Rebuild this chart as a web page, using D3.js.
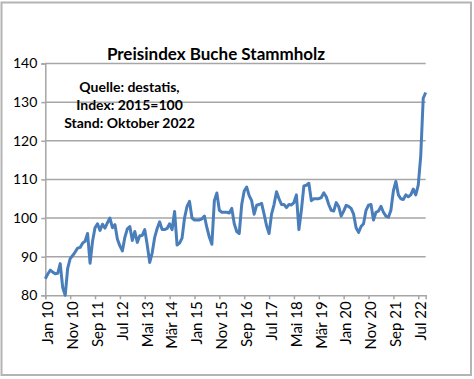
<!DOCTYPE html>
<html><head><meta charset="utf-8">
<script src="https://cdn.jsdelivr.net/npm/d3@7"></script>
<style>
html,body{margin:0;padding:0;background:#fff;}
svg{display:block;font-family:Lato,"Open Sans",sans-serif;}
</style></head>
<body>
<script>
// Monthly price index, Jan 2010 .. Oct 2022 (2015 = 100)
const values = [
 84.3,85.5,86.5,86.0,85.6,85.7,88.2,82.0,80.0,87.0,89.5,90.3,
 91.2,92.2,92.4,93.5,94.0,96.0,88.3,94.0,97.5,98.5,96.8,98.4,
 97.4,98.8,100.0,97.5,98.3,94.5,92.8,91.5,95.0,97.2,97.8,94.2,
 96.5,93.7,95.4,95.5,97.0,93.0,88.5,91.0,95.0,97.3,99.0,97.0,
 97.0,97.3,98.5,97.0,101.7,93.0,93.5,94.8,100.0,103.0,104.3,100.0,
 99.5,99.5,99.5,99.8,100.5,97.5,95.0,93.2,104.5,106.5,102.0,101.5,
 101.5,101.5,101.3,102.5,98.5,96.5,96.0,103.5,107.0,108.0,105.8,104.5,
 101.0,103.3,103.5,103.8,101.0,98.0,96.0,101.0,103.5,106.8,105.0,103.5,
 103.5,102.7,103.5,103.4,104.0,106.0,97.0,102.0,108.3,108.5,109.0,104.5,
 105.0,105.0,105.0,105.3,106.5,105.5,103.5,102.0,101.8,104.0,103.0,100.5,
 101.8,103.3,103.0,102.5,101.0,97.5,96.3,97.8,98.5,102.0,103.3,103.5,
 99.5,101.5,101.8,103.0,101.5,100.5,100.2,102.0,107.0,109.5,106.0,105.0,
 104.8,106.0,105.5,106.0,107.5,106.0,108.5,116.0,131.0,132.5
];
const monthNames = ["Jan","Feb","Mär","Apr","Mai","Jun","Jul","Aug","Sep","Okt","Nov","Dez"];
const startYear = 2010;
const categories = values.map((v,i)=> monthNames[i%12] + " " + String((startYear + Math.floor(i/12))%100).padStart(2,"0"));
const tickLabels = ["Jan 10","Nov 10","Sep 11","Jul 12","Mai 13","Mär 14","Jan 15","Nov 15","Sep 16","Jul 17","Mai 18","Mär 19","Jan 20","Nov 20","Sep 21","Jul 22"];
const yTicks = [80,90,100,110,120,130,140];
const titleText = "Preisindex Buche Stammholz";
const noteLines = ["Quelle: destatis,","Index: 2015=100","Stand: Oktober 2022"];

const W=474,H=379;
const svg = d3.select("body").append("svg").attr("width",W).attr("height",H);

// outer border
svg.append("rect").attr("x",1.5).attr("y",2.5).attr("width",469.5).attr("height",372.5)
  .attr("fill","#fff").attr("stroke","#b4b4b4").attr("stroke-width",2);

const mLeft=45.3, mRight=425.7, mTop=63.5, mBottom=295.3;
const x = d3.scaleLinear().domain([0, values.length-1]).range([mLeft,mRight]);
const y = d3.scaleLinear().domain([80,140]).range([mBottom,mTop]);

// gridlines
svg.append("g").selectAll("line").data(yTicks.filter(t=>t>80)).join("line")
  .attr("x1",mLeft).attr("x2",mRight).attr("y1",d=>y(d)).attr("y2",d=>y(d))
  .attr("stroke","#a6a6a6").attr("stroke-width",1.5);

// y axis
const yAxis = svg.append("g").attr("transform",`translate(${mLeft},0)`)
  .call(d3.axisLeft(y).tickValues(yTicks).tickSize(4).tickPadding(4));
yAxis.select(".domain").attr("stroke","#a6a6a6").attr("stroke-width",1.5);
yAxis.selectAll(".tick line").attr("stroke","#a6a6a6").attr("stroke-width",1.5);
yAxis.selectAll("text").attr("font-size","14px").attr("fill","#000").attr("font-family","Lato");

// x axis
const tickIdx = tickLabels.map(l=>categories.indexOf(l));
const xAxis = svg.append("g").attr("transform",`translate(0,${mBottom})`)
  .call(d3.axisBottom(x).tickValues(tickIdx).tickSize(4).tickFormat(d=>categories[d]));
xAxis.select(".domain").attr("stroke","#a6a6a6").attr("stroke-width",1.5);
xAxis.selectAll(".tick line").attr("stroke","#a6a6a6").attr("stroke-width",1.5);
xAxis.selectAll("text").attr("font-size","15px").attr("fill","#000").attr("font-family","Lato")
  .attr("text-anchor","end").attr("transform","rotate(-90)")
  .attr("x",-6).attr("y",2).attr("dy","0.35em");

// line
svg.append("path").datum(values)
  .attr("d", d3.line().x((d,i)=>x(i)).y(d=>y(d)))
  .attr("fill","none").attr("stroke","#4a7ebb").attr("stroke-width",3)
  .attr("stroke-linejoin","round");

// title
svg.append("text").attr("x",216).attr("y",60).attr("text-anchor","middle")
  .attr("font-size","17px").attr("font-weight","bold").attr("fill","#000")
  .text(titleText);

// note
svg.append("g").selectAll("text").data(noteLines).join("text")
  .attr("x",129.5).attr("y",(d,i)=>92.3+i*17.7).attr("text-anchor","middle")
  .attr("font-size","14px").attr("font-weight","bold").attr("fill","#000")
  .text(d=>d);
</script>
</body></html>
